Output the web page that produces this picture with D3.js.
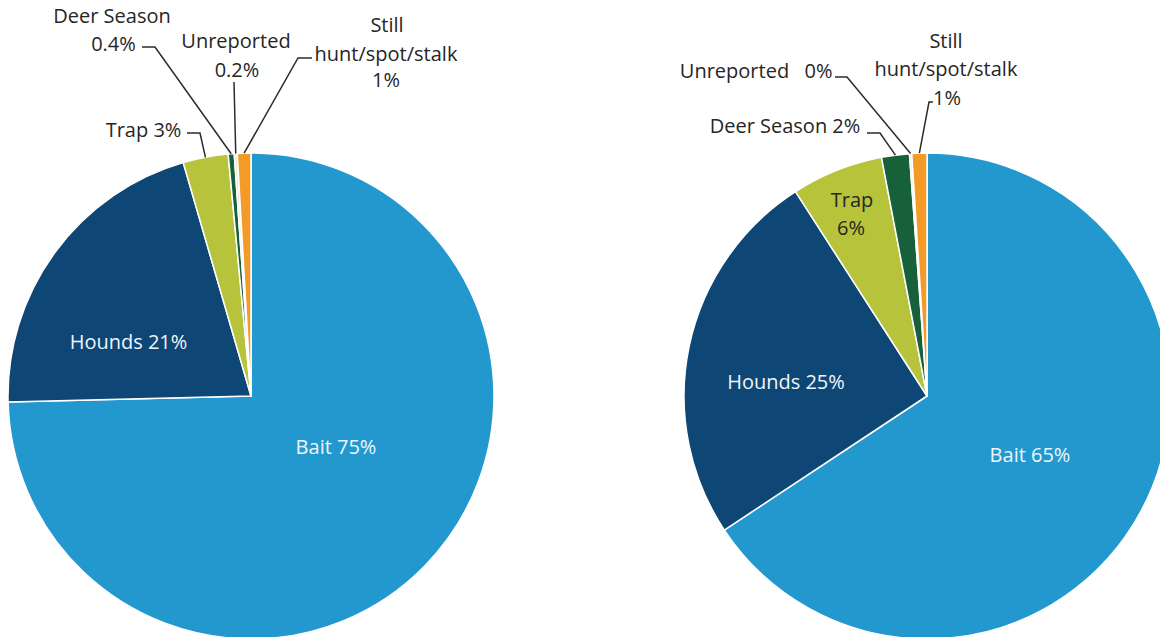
<!DOCTYPE html>
<html>
<head>
<meta charset="utf-8">
<script src="https://cdn.jsdelivr.net/npm/d3@7"></script>
<style>
  html, body { margin: 0; padding: 0; background: #fff; }
  svg { display: block; }
  text { font-family: "Open Sans", sans-serif; font-size: 20px; }
</style>
</head>
<body>
<svg id="chart" width="1160" height="637"></svg>
<script>
// ---- data ----
const categories = ["Bait", "Hounds", "Trap", "Deer Season", "Unreported", "Still hunt/spot/stalk"];
const leftValues = [74.6, 20.9, 3.0, 0.4, 0.2, 0.9];
const rightValues = [65.7, 25.2, 6.1, 1.85, 0.15, 1.0];
const leftLabels = ["75%", "21%", "3%", "0.4%", "0.2%", "1%"];
const rightLabels = ["65%", "25%", "6%", "2%", "0%", "1%"];
const colors = ["#2398cf", "#0e4675", "#b6c33b", "#16603a", "#efe8d2", "#f39a27"];

// ---- layout ----
const svg = d3.select("#chart");
const R = 243;
const pieGen = d3.pie().sort(null).value(d => d.v);
const arcGen = d3.arc().innerRadius(0).outerRadius(R);
const color = d3.scaleOrdinal().domain(categories).range(colors);

function drawPie(cx, cy, values, labels, spec) {
  const data = categories.map((c, i) => ({ c, v: values[i], l: labels[i] }));
  const arcs = pieGen(data);
  const g = svg.append("g").attr("transform", `translate(${cx},${cy})`);
  g.selectAll("path.slice").data(arcs).enter().append("path")
    .attr("class", "slice")
    .attr("d", arcGen)
    .attr("fill", d => color(d.data.c))
    .attr("stroke", "#ffffff")
    .attr("stroke-width", 1.5)
    .attr("stroke-linejoin", "round");

  arcs.forEach((a, i) => {
    const s = spec[i];
    if (!s) return;
    const name = a.data.c;
    const lab = a.data.l;
    // text
    s.lines(name, lab).forEach((ln, k) => {
      svg.append("text")
        .attr("x", ln[1]).attr("y", ln[2])
        .attr("text-anchor", "middle")
        .attr("fill", s.fill || "#262626")
        .text(ln[0]);
    });
    // leader
    if (s.leader) {
      const mid = (a.startAngle + a.endAngle) / 2;
      const ex = cx + R * Math.sin(mid);
      const ey = cy - R * Math.cos(mid);
      const pts = s.leader.concat([[ex, ey]]);
      svg.append("path")
        .attr("d", d3.line()(pts))
        .attr("fill", "none")
        .attr("stroke", "#2b2b2b")
        .attr("stroke-width", 1.5);
    }
  });
}

const leftSpec = [
  { fill: "#eef6fb", lines: (n, l) => [[`${n} ${l}`, 336, 454]] },
  { fill: "#eef6fb", lines: (n, l) => [[`${n} ${l}`, 128.5, 349]] },
  { lines: (n, l) => [[`${n} ${l}`, 143.5, 137]], leader: [[187, 133], [200, 133]] },
  { lines: (n, l) => [[n, 112, 23], [l, 113.5, 51]], leader: [[142, 47], [155, 47]] },
  { lines: (n, l) => [[n, 236, 48], [l, 237, 77]], leader: [[234, 82]] },
  { lines: (n, l) => [["Still", 387, 32], ["hunt/spot/stalk", 386, 61], [l, 386, 87]], leader: [[312, 58], [298, 58]] }
];

const rightSpec = [
  { fill: "#eef6fb", lines: (n, l) => [[`${n} ${l}`, 1030, 462]] },
  { fill: "#eef6fb", lines: (n, l) => [[`${n} ${l}`, 786, 389]] },
  { lines: (n, l) => [[n, 852, 207], [l, 851, 235]] },
  { lines: (n, l) => [[`${n} ${l}`, 785, 133]], leader: [[867, 133], [880, 133]] },
  { lines: (n, l) => [[n, 734.5, 78], [l, 818.5, 78]], leader: [[835, 77], [847, 77]] },
  { lines: (n, l) => [["Still", 946, 48], ["hunt/spot/stalk", 946, 76], [l, 947, 105]], leader: [[933, 102], [929, 102]] }
];

drawPie(251, 396, leftValues, leftLabels, leftSpec);
drawPie(927, 396, rightValues, rightLabels, rightSpec);
</script>
</body>
</html>
